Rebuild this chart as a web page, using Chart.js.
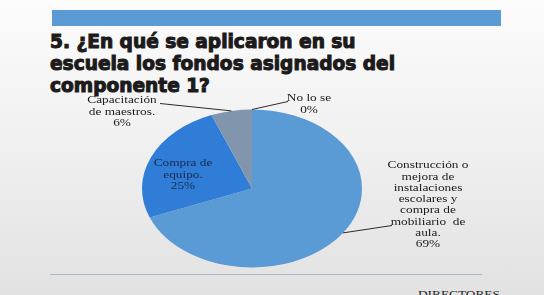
<!DOCTYPE html>
<html>
<head>
<meta charset="utf-8">
<script src="https://cdn.jsdelivr.net/npm/chart.js@4"></script>
<style>
  html, body { margin: 0; padding: 0; }
  body {
    width: 544px; height: 295px; overflow: hidden; position: relative;
    background: linear-gradient(to bottom, #fcfcfc 0%, #f1f1f1 45%, #e2e2e2 100%);
  }
  #bar { position: absolute; left: 52px; top: 10px; width: 449px; height: 16px; background: #5b9bd5; }
  #title {
    position: absolute; left: 50px; top: 30.8px; transform-origin: 0 0;
    font-family: "DejaVu Sans Condensed", "DejaVu Sans", sans-serif; font-weight: bold;
    font-size: 19.5px; line-height: 22.3px; color: #1c1a1a; white-space: nowrap;
    -webkit-text-stroke: 1px #1c1a1a;
  }
  #rule { position: absolute; left: 50px; top: 273.5px; width: 432px; height: 1.5px; background: #a3bbd0; }
  #foot {
    position: absolute; left: 418px; top: 288.5px; transform-origin: 0 0; transform: scaleX(1.28);
    font-family: "Liberation Serif", serif; font-size: 10.4px; line-height: 11px; color: #1e1e1e;
  }
  #c { position: absolute; left: 0; top: 0; }
</style>
</head>
<body>
<div id="bar"></div>
<div id="title">
  <div>5. ¿En qué se aplicaron en su</div>
  <div>escuela los fondos asignados del</div>
  <div>componente 1?</div>
</div>
<div id="rule"></div>
<div id="foot">DIRECTORES</div>
<canvas id="c" width="544" height="295"></canvas>
<script>
// ===== Data =====
const categories = [
  "Construcción o mejora de instalaciones escolares y compra de mobiliario  de aula.",
  "Compra de equipo.",
  "Capacitación de maestros.",
  "No lo se"
];
const percentages = [69, 25, 6, 0];
const labelLines = [
  ["Construcción o", "mejora de", "instalaciones", "escolares y", "compra de", "mobiliario  de", "aula."],
  ["Compra de", "equipo."],
  ["Capacitación", "de maestros."],
  ["No lo se"]
];
const sliceColors = ["#5b9bd5", "#2f7dd6", "#8195ad"];

// the slide is stretched sideways: pie and label text get widened
const STRETCH = 110 / 79;
const TEXT_STRETCH = 1.28;

(function fitTitle() {
  const t = document.getElementById("title");
  const m = document.createElement("canvas").getContext("2d");
  m.font = "bold 19.5px 'DejaVu Sans Condensed'";
  const w = m.measureText("escuela los fondos asignados del").width;
  t.style.transform = "scaleX(" + (345 / w) + ")";
})();

// ===== Label placement (offsets from pie centre, px) =====
const labelPos = [
  { dx: 176, dy: -23, lead: [140, 37] },
  { dx: -69, dy: -25, lead: null },
  { dx: -130, dy: -88, lead: [-92, -85] },
  { dx: 57, dy: -90, lead: [36, -87] }
];

const stretchPie = {
  id: "stretchPie",
  beforeDatasetsDraw(chart) {
    const a = chart.getDatasetMeta(0).data[0];
    const ctx = chart.ctx;
    ctx.save();
    ctx.translate(a.x, a.y);
    ctx.scale(STRETCH, 1);
    ctx.translate(-a.x, -a.y);
  },
  afterDatasetsDraw(chart) {
    chart.ctx.restore();
  }
};

const pieLabels = {
  id: "pieLabels",
  afterDraw(chart) {
    const ctx = chart.ctx;
    const arcs = chart.getDatasetMeta(0).data;
    const a0 = arcs[0];
    const cx = a0.x, cy = a0.y, r = a0.outerRadius;
    ctx.save();
    arcs.forEach((arc, i) => {
      const p = labelPos[i];
      if (p.lead) {
        const mid = (arc.startAngle + arc.endAngle) / 2;
        const sx = cx + Math.cos(mid) * r * STRETCH;
        const sy = cy + Math.sin(mid) * r;
        ctx.strokeStyle = "#2b2b2b";
        ctx.lineWidth = 1;
        ctx.beginPath();
        ctx.moveTo(sx, sy);
        ctx.lineTo(cx + p.lead[0], cy + p.lead[1]);
        ctx.stroke();
      }
      const lines = labelLines[i].concat([percentages[i] + "%"]);
      ctx.font = "10.4px 'Liberation Serif'";
      ctx.fillStyle = i === 1 ? "#1a2a4c" : "#1a1a1a";
      ctx.textAlign = "center";
      ctx.textBaseline = "middle";
      lines.forEach((ln, k) => {
        ctx.save();
        ctx.translate(cx + p.dx, cy + p.dy + k * 11.3);
        ctx.scale(TEXT_STRETCH, 1);
        ctx.fillText(ln, 0, 0);
        ctx.restore();
      });
    });
    ctx.restore();
  }
};

// ===== Chart =====
new Chart(document.getElementById("c"), {
  type: "pie",
  data: {
    labels: categories,
    datasets: [{
      data: percentages,
      backgroundColor: sliceColors.concat(["#a5a5a5"]),
      borderWidth: 0,
      hoverOffset: 0
    }]
  },
  options: {
    responsive: false,
    devicePixelRatio: 1,
    animation: false,
    events: [],
    layout: { padding: { left: 173, right: 213, top: 109.5, bottom: 27.5 } },
    plugins: {
      legend: { display: false },
      tooltip: { enabled: false }
    }
  },
  plugins: [stretchPie, pieLabels]
});
</script>
</body>
</html>
